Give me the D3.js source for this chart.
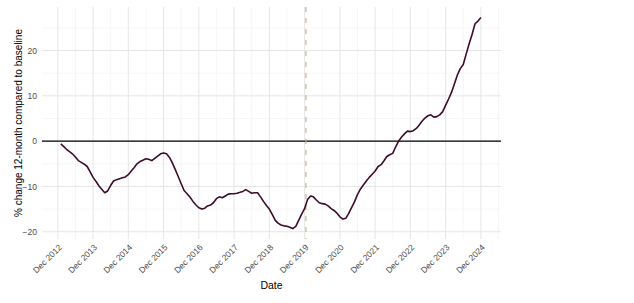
<!DOCTYPE html>
<html>
<head>
<meta charset="utf-8">
<script src="https://cdn.jsdelivr.net/npm/d3@7"></script>
<style>
  body { margin: 0; background: #fff; }
  text { font-family: "Liberation Sans", Arial, sans-serif; }
</style>
</head>
<body>
<div id="wrapper"></div>
<script>
// monthly values, Jan 2013 .. Dec 2024 (% change, 12-month, vs baseline)
const firstMonth = "2013-01"
const pctChange = [
  -0.6, -1.2, -1.8, -2.3, -2.8, -3.5, -4.3, -4.7, -5.1, -5.6, -6.8, -8.0,
  -8.9, -9.9, -10.6, -11.4, -11.0, -9.8, -8.8, -8.5, -8.3, -8.1, -7.9, -7.4,
  -6.6, -5.8, -5.0, -4.5, -4.2, -3.9, -4.0, -4.3, -3.8, -3.3, -2.8, -2.6,
  -2.8, -3.6, -4.8, -6.3, -7.8, -9.4, -10.9, -11.6, -12.4, -13.3, -14.1, -14.7,
  -15.0, -14.8, -14.3, -14.1, -13.6, -12.7, -12.3, -12.5, -12.1, -11.7, -11.6, -11.6,
  -11.5, -11.3, -11.1, -10.7, -11.1, -11.5, -11.4, -11.4, -12.3, -13.3, -14.2, -15.0,
  -16.2, -17.5, -18.1, -18.5, -18.7, -18.8, -19.0, -19.3, -18.8, -17.5, -16.1, -14.9,
  -12.9, -12.1, -12.3, -13.0, -13.6, -13.8, -13.9, -14.3, -14.9, -15.3, -15.9, -16.7,
  -17.2, -17.0, -16.0, -14.7, -13.4, -11.8, -10.6, -9.7, -8.8, -8.0, -7.3, -6.6,
  -5.6, -5.2, -4.4, -3.4, -3.0, -2.7, -1.3, 0.0, 0.9, 1.6, 2.2, 2.1,
  2.3, 2.8, 3.5, 4.4, 5.1, 5.6, 5.8, 5.3, 5.4, 5.8, 6.5, 7.9,
  9.3, 10.8, 12.6, 14.6, 16.0, 16.9, 19.2, 21.5, 23.6, 25.9, 26.5, 27.3
]
const xTickLabels = ["Dec 2012", "Dec 2013", "Dec 2014", "Dec 2015", "Dec 2016", "Dec 2017",
  "Dec 2018", "Dec 2019", "Dec 2020", "Dec 2021", "Dec 2022", "Dec 2023", "Dec 2024"]
const yTicks = [-20, -10, 0, 10, 20]
const yMinorTicks = [-15, -5, 5, 15, 25]
const markerDate = "2019-12-15"

const parseMonth = d3.timeParse("%Y-%m")
const parseLabel = d3.timeParse("%b %Y")
const parseDay = d3.timeParse("%Y-%m-%d")

const start = parseMonth(firstMonth)
const dataset = pctChange.map((v, i) => ({ date: d3.timeMonth.offset(start, i), value: v }))
const tickDates = xTickLabels.map(parseLabel)

const dimensions = {
  width: 634,
  height: 303,
  margin: { top: 7, right: 133, bottom: 64, left: 42 }
}
dimensions.boundedWidth = dimensions.width - dimensions.margin.left - dimensions.margin.right
dimensions.boundedHeight = dimensions.height - dimensions.margin.top - dimensions.margin.bottom

const svg = d3.select("#wrapper")
  .append("svg")
    .attr("width", dimensions.width)
    .attr("height", dimensions.height)

const bounds = svg.append("g")
  .attr("transform", `translate(${dimensions.margin.left},${dimensions.margin.top})`)

const xScale = d3.scaleTime()
  .domain([parseDay("2012-06-20"), parseDay("2025-06-27")])
  .range([0, dimensions.boundedWidth])

const yScale = d3.scaleLinear()
  .domain([-21.6, 29.6])
  .range([dimensions.boundedHeight, 0])

// minor vertical breaks halfway between the yearly ones
const minorDates = []
for (let i = -1; i < tickDates.length; i++) {
  const a = i < 0 ? d3.timeYear.offset(tickDates[0], -1) : tickDates[i]
  const b = d3.timeYear.offset(a, 1)
  const mid = new Date((a.getTime() + b.getTime()) / 2)
  if (mid >= xScale.domain()[0] && mid <= xScale.domain()[1]) minorDates.push(mid)
}

const grid = bounds.append("g")
grid.selectAll(".vminor").data(minorDates).join("line")
  .attr("x1", d => xScale(d)).attr("x2", d => xScale(d))
  .attr("y1", 0).attr("y2", dimensions.boundedHeight)
  .attr("stroke", "#f0f0f0").attr("stroke-width", 0.6)
grid.selectAll(".hminor").data(yMinorTicks).join("line")
  .attr("x1", 0).attr("x2", dimensions.boundedWidth)
  .attr("y1", d => yScale(d)).attr("y2", d => yScale(d))
  .attr("stroke", "#f0f0f0").attr("stroke-width", 0.6)
grid.selectAll(".vmajor").data(tickDates).join("line")
  .attr("x1", d => xScale(d)).attr("x2", d => xScale(d))
  .attr("y1", 0).attr("y2", dimensions.boundedHeight)
  .attr("stroke", "#e6e6e6").attr("stroke-width", 1)
grid.selectAll(".hmajor").data(yTicks).join("line")
  .attr("x1", 0).attr("x2", dimensions.boundedWidth)
  .attr("y1", d => yScale(d)).attr("y2", d => yScale(d))
  .attr("stroke", "#e6e6e6").attr("stroke-width", 1)

// zero reference
bounds.append("line")
  .attr("x1", 0).attr("x2", dimensions.boundedWidth)
  .attr("y1", yScale(0)).attr("y2", yScale(0))
  .attr("stroke", "#000").attr("stroke-width", 1.3)

// marker line
bounds.append("line")
  .attr("x1", xScale(parseDay(markerDate))).attr("x2", xScale(parseDay(markerDate)))
  .attr("y1", 0).attr("y2", dimensions.boundedHeight)
  .attr("stroke", "#c4ad7f").attr("stroke-width", 1.1)
  .attr("stroke-dasharray", "5,6")

const lineGenerator = d3.line()
  .x(d => xScale(d.date))
  .y(d => yScale(d.value))

bounds.append("path")
  .datum(dataset)
  .attr("d", lineGenerator)
  .attr("fill", "none")
  .attr("stroke", "#3e0b2b")
  .attr("stroke-width", 1.6)
  .attr("stroke-linejoin", "round")

// axes
const xAxisGenerator = d3.axisBottom(xScale)
  .tickValues(tickDates)
  .tickFormat(d3.timeFormat("%b %Y"))
  .tickSize(0)
  .tickPadding(0)

const xAxis = bounds.append("g")
  .attr("transform", `translate(0,${dimensions.boundedHeight})`)
  .call(xAxisGenerator)
xAxis.select(".domain").remove()
xAxis.selectAll("text")
  .attr("font-size", 8.5)
  .attr("fill", "#4d4d4d")
  .attr("text-anchor", "end")
  .attr("dy", null)
  .attr("y", 0)
  .attr("transform", "translate(4,9) rotate(-45)")

const yAxisGenerator = d3.axisLeft(yScale)
  .tickValues(yTicks)
  .tickSize(0)
  .tickPadding(5)

const yAxis = bounds.append("g").call(yAxisGenerator)
yAxis.select(".domain").remove()
yAxis.selectAll("text")
  .attr("font-size", 8.5)
  .attr("fill", "#4d4d4d")

svg.append("text")
  .attr("x", dimensions.margin.left + dimensions.boundedWidth / 2)
  .attr("y", 289)
  .attr("text-anchor", "middle")
  .attr("font-size", 10.5)
  .attr("fill", "#000")
  .text("Date")

svg.append("text")
  .attr("transform", `translate(22,${dimensions.margin.top + dimensions.boundedHeight / 2}) rotate(-90)`)
  .attr("text-anchor", "middle")
  .attr("font-size", 10)
  .attr("fill", "#000")
  .text("% change 12-month compared to baseline")
</script>
</body>
</html>
